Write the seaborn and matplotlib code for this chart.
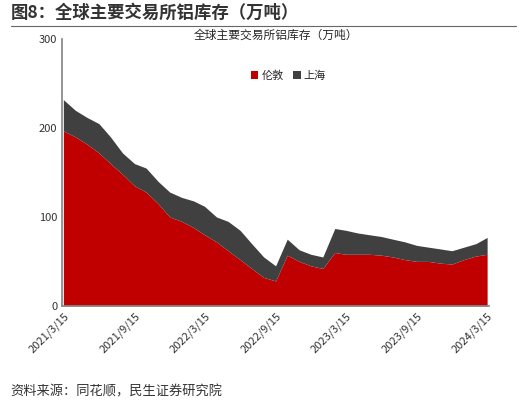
import matplotlib
matplotlib.use("Agg")
import matplotlib.pyplot as plt
import pandas as pd
import seaborn as sns

MONTHS = pd.date_range("2021-03-01", periods=37, freq="MS") + pd.Timedelta(days=14)
LONDON = [197, 190, 182, 172, 160, 148, 135, 128, 115, 100,
          95, 88, 80, 72, 62, 52, 42, 32, 28, 57, 50, 45,
          42, 60, 58, 58, 58, 57, 55, 52, 50, 50, 48, 47,
          52, 56, 58]
TOTAL = [232, 220, 212, 205, 190, 172, 160, 155, 140, 128,
         122, 118, 112, 100, 95, 85, 70, 55, 45, 75, 63, 58,
         55, 87, 85, 82, 80, 78, 75, 72, 68, 66, 64, 62,
         66, 70, 77]
SHANGHAI = [t - l for t, l in zip(TOTAL, LONDON)]
TICK_DATES = ["2021/3/15", "2021/9/15", "2022/3/15", "2022/9/15",
              "2023/3/15", "2023/9/15", "2024/3/15"]

sns.set_theme(style="white")
plt.rcParams["font.family"] = ["Noto Sans CJK SC", "DejaVu Sans"]

df = pd.DataFrame({"date": MONTHS, "伦敦": LONDON, "上海": SHANGHAI})

fig = plt.figure(figsize=(5.27, 4.04), dpi=100)
ax = fig.add_axes([0.118, 0.243, 0.81, 0.66])
ax.stackplot(df["date"], df["伦敦"], df["上海"], colors=["#C00000", "#404040"],
             labels=["伦敦", "上海"], linewidth=0)
ax.set_ylim(0, 300)
ax.set_yticks([0, 100, 200, 300])
ticks = pd.to_datetime(TICK_DATES, format="%Y/%m/%d")
ax.set_xticks(ticks)
ax.set_xticklabels(TICK_DATES, rotation=45, ha="right", rotation_mode="anchor")
ax.set_xlim(ticks[0] - pd.Timedelta(days=3), ticks[-1] + pd.Timedelta(days=5))
ax.tick_params(labelsize=8, colors="#333333", length=0)
for s in ["top", "right"]:
    ax.spines[s].set_visible(False)
for s in ["left", "bottom"]:
    ax.spines[s].set_color("#888888")
ax.set_title("全球主要交易所铝库存（万吨）", fontsize=8.5, y=0.97)
ax.legend(loc="upper center", bbox_to_anchor=(0.53, 0.92), ncol=2, frameon=False,
          fontsize=8, handlelength=0.7, handleheight=0.7, columnspacing=0.8,
          handletextpad=0.3)

fig.text(0.02, 0.955, "图8：全球主要交易所铝库存（万吨）", fontsize=12.5,
         fontweight="bold", color="#333333")
fig.add_artist(plt.Line2D([0.02, 0.98], [0.935, 0.935], color="#666666", lw=0.8))
fig.text(0.02, 0.02, "资料来源：同花顺，民生证券研究院", fontsize=9.5, color="#333333")

fig.savefig("out.png", dpi=100)
